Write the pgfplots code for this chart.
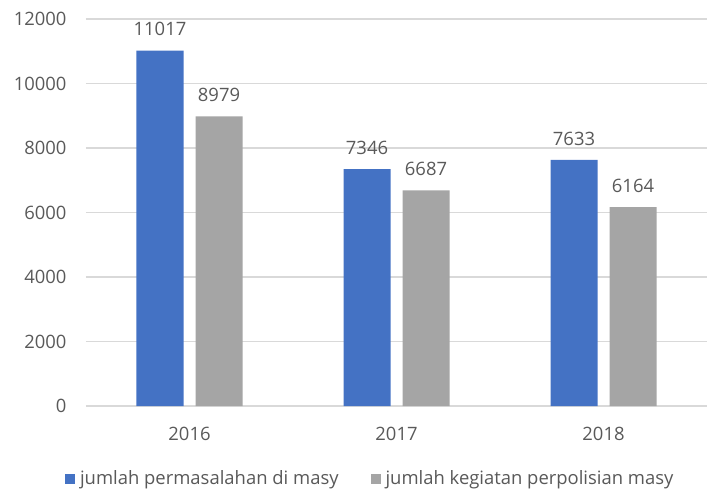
\documentclass[border=0pt]{standalone}
\usepackage{pgfplots}
\pgfplotsset{compat=1.18}
\usepackage{fontspec}
\setmainfont{Open Sans}
\definecolor{cblue}{HTML}{4472C4}
\definecolor{cgray}{HTML}{A5A5A5}
\definecolor{ctext}{HTML}{595959}
\definecolor{cgrid}{HTML}{D9D9D9}
\begin{document}
\begin{tikzpicture}
\useasboundingbox (-86bp,-88bp) rectangle (621bp,406bp);
\begin{axis}[
  at={(0,0)}, anchor=south west,
  scale only axis, width=621bp, height=387bp,
  ybar=12bp, bar width=47bp,
  xmin=-0.5, xmax=2.5, ymin=0, ymax=12000,
  xtick={0,1,2}, xticklabels={2016,2017,2018},
  ytick={0,2000,...,12000},
  axis lines*=left, axis line style={draw=none},
  ymajorgrids, grid style={cgrid, line width=1.2bp},
  tick style={draw=none},
  major tick length=0pt,
  ticklabel style={font=\fontsize{18.5}{22}\selectfont, text=ctext},
  yticklabel style={xshift=-16bp},
  xticklabel style={yshift=-18bp},
  /pgf/number format/assume math mode=true,
  scaled y ticks=false,
  yticklabel={\pgfmathprintnumber[fixed,1000 sep={}]{\tick}},
  nodes near coords,
  nodes near coords style={font=\fontsize{18.5}{22}\selectfont, text=ctext, yshift=11bp,
     /pgf/number format/.cd, fixed, 1000 sep={}, assume math mode=true},
  legend style={draw=none, font=\fontsize{18.5}{22}\selectfont, text=ctext,
     at={(-0.034,-0.162)}, anchor=north west, legend columns=2,
     /tikz/every even column/.append style={column sep=30bp},
     /tikz/every odd column/.append style={column sep=3bp},
     inner sep=0pt},
  legend image code/.code={\fill[#1] (0bp,-5bp) rectangle (10bp,5bp);},
]
\addplot[fill=cblue, draw=none] coordinates {(0,11017) (1,7346) (2,7633)};
\addplot[fill=cgray, draw=none] coordinates {(0,8979) (1,6687) (2,6164)};
\legend{jumlah permasalahan di masy, jumlah kegiatan perpolisian masy}
\end{axis}
\end{tikzpicture}
\end{document}
